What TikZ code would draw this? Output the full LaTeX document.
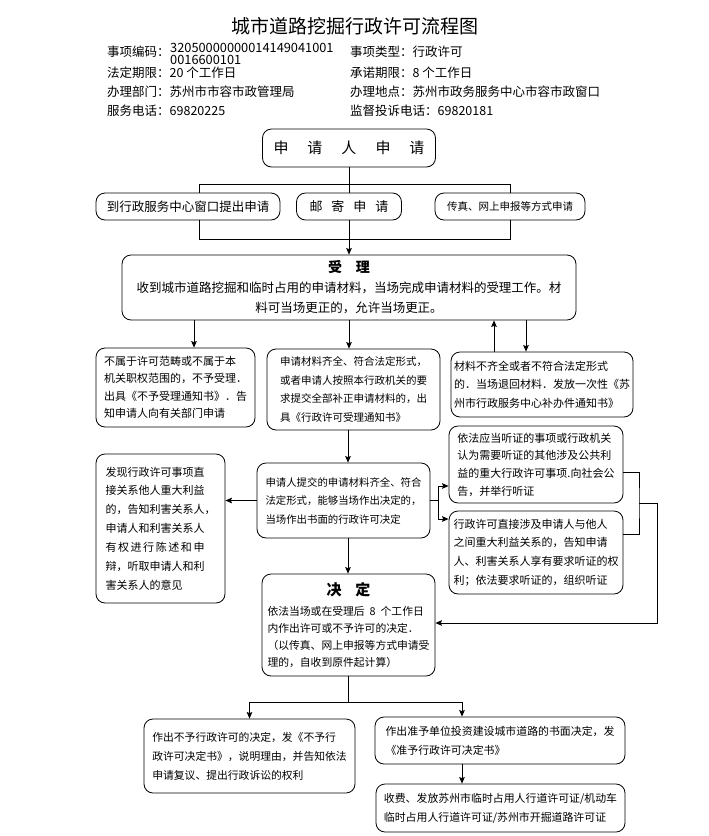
\documentclass[tikz,border=0pt]{standalone}
\usepackage{fontspec}
\setmainfont{Noto Sans CJK SC}
\usetikzlibrary{arrows.meta}
\newcommand\fsz[2]{\fontsize{#1}{#2}\selectfont}
\begin{document}
\begin{tikzpicture}[x=1pt,y=-1pt,
 box/.style={draw, rounded corners=9pt, line width=0.8pt, fill=white, inner sep=0pt},
 lft/.style={align=left},
 ctr/.style={align=center},
 ln/.style={line width=0.8pt},
 arr/.style={ln, -{Stealth[length=6.5pt,width=5.5pt,inset=1pt]}},
 hd/.style={anchor=west, inner sep=0pt, font=\fsz{12.5}{14}},
 code/.style={anchor=west, inner sep=0pt, font=\fsz{12.8}{12}}]
\useasboundingbox[fill=white] (0,0) rectangle (709,836);

% header
\node[inner sep=0pt, font=\fsz{19}{22}] (title) at (355,26) {城市道路挖掘行政许可流程图};
\node[hd] (h1a) at (107,52) {事项编码：};
\node[code] (h1b) at (170,48) {32050000000014149041001};
\node[code] (h1d) at (170,60) {0016600101};
\node[hd] (h1c) at (350,52) {事项类型：行政许可};
\node[hd] (h2a) at (107,73) {法定期限：20 个工作日};
\node[hd] (h2c) at (350,73) {承诺期限：8 个工作日};
\node[hd] (h3a) at (107,92) {办理部门：苏州市市容市政管理局};
\node[hd] (h3c) at (350,92) {办理地点：苏州市政务服务中心市容市政窗口};
\node[hd] (h4a) at (107,111) {服务电话：69820225};
\node[hd] (h4c) at (350,111) {监督投诉电话：69820181};

% application boxes
\node[box, minimum width=173pt, minimum height=38pt, font=\fsz{15}{18}] (top) at (349,148)
  {申\hspace{19pt}请\hspace{19pt}人\hspace{19pt}申\hspace{19pt}请};
\node[box, minimum width=184pt, minimum height=27pt, font=\fsz{12.5}{14}] (box1) at (188,206.5) {到行政服务中心窗口提出申请};
\node[box, minimum width=105pt, minimum height=27pt, font=\fsz{13}{14}] (box2) at (349,206.5) {邮\hspace{9pt}寄\hspace{9pt}申\hspace{9pt}请};
\node[box, minimum width=150pt, minimum height=27pt, font=\fsz{10.5}{12}] (box3) at (510,206.5) {传真、网上申报等方式申请};

\node[box, ctr, minimum width=454pt, minimum height=65pt, font=\fsz{12.5}{20}] (sl) at (349,287.5)
  {{\fsz{14}{20}\bfseries 受\hspace{14pt}理}\\收到城市道路挖掘和临时占用的申请材料，当场完成申请材料的受理工作。材\\料可当场更正的，允许当场更正。};

\node[box, lft, minimum width=159pt, minimum height=79pt, font=\fsz{11}{17.5}] (B) at (175.5,387.5)
  {不属于许可范畴或不属于本\\机关职权范围的，不予受理．\\出具《不予受理通知书》．告\\知申请人向有关部门申请};
\node[box, lft, minimum width=173pt, minimum height=81pt, font=\fsz{10.5}{18.7}] (A) at (353.5,389.5)
  {申请材料齐全、符合法定形式，\\或者申请人按照本行政机关的要\\求提交全部补正申请材料的，出\\具《行政许可受理通知书》};
\node[box, lft, minimum width=182pt, minimum height=65pt, font=\fsz{11}{18.5}] (C) at (542,384.5)
  {材料不齐全或者不符合法定形式\\的．当场退回材料．发放一次性《苏\\州市行政服务中心补办件通知书》};

\node[box, lft, minimum width=173pt, minimum height=75pt, font=\fsz{10.4}{18.5}] (D) at (343.5,500.5)
  {申请人提交的申请材料齐全、符合\\法定形式，能够当场作出决定的，\\当场作出书面的行政许可决定};
\node[box, lft, minimum width=129pt, minimum height=149pt, font=\fsz{11}{18.9}] (E) at (160.5,528.5)
  {发现行政许可事项直\\接关系他人重大利益\\的，告知利害关系人，\\申请人和利害关系人\\\makebox[9em][s]{有\hfil 权\hfil 进\hfil 行\hfil 陈\hfil 述\hfil 和\hfil 申}\\辩，听取申请人和利\\害关系人的意见};
\node[box, lft, minimum width=174pt, minimum height=77pt, font=\fsz{11}{17.7}] (H1) at (536,464.5)
  {依法应当听证的事项或行政机关\\认为需要听证的其他涉及公共利\\益的重大行政许可事项.向社会公\\告，并举行听证};
\node[box, lft, minimum width=174pt, minimum height=83pt, font=\fsz{11}{18.7}] (H2) at (536,552.5)
  {行政许可直接涉及申请人与他人\\之间重大利益关系的，告知申请\\人、利害关系人享有要求听证的权\\利；依法要求听证的，组织听证};

\node[box, lft, minimum width=173pt, minimum height=102pt, font=\fsz{10.8}{17}] (J) at (348.5,625)
  {\makebox[162pt]{\fsz{15}{17}\bfseries 决\hspace{14pt}定}\\[3pt]依法当场或在受理后\hspace{5pt}8\hspace{5pt}个工作日\\内作出许可或不予许可的决定．\\（以传真、网上申报等方式申请受\\理的，自收到原件起计算）};

\node[box, lft, minimum width=211pt, minimum height=74pt, font=\fsz{10.8}{19}] (F) at (249.5,756)
  {作出不予行政许可的决定，发《不予行\\政许可决定书》，说明理由，并告知依法\\申请复议、提出行政诉讼的权利};
\node[box, lft, minimum width=250pt, minimum height=47pt, font=\fsz{10.9}{19}] (G1) at (500,740.5)
  {作出准予单位投资建设城市道路的书面决定，发\\《准予行政许可决定书》};
\node[box, lft, minimum width=249pt, minimum height=48pt, font=\fsz{10.9}{19}] (G2) at (500.5,808)
  {收费、发放苏州市临时占用人行道许可证/机动车\\临时占用人行道许可证/苏州市开掘道路许可证};

% connectors: application
\coordinate (bl1) at (199,184);
\coordinate (br1) at (510,184);
\coordinate (bl2) at (199,239);
\coordinate (br2) at (510,239);
\draw[ln] (top.south) -- (box2.north);
\draw[ln] (bl1) -- (br1);
\draw[ln] (bl1) -- (box1.north -| bl1);
\draw[ln] (br1) -- (box3.north -| br1);
\draw[ln] (box1.south -| bl1) -- (bl2) -- (br2) -- (box3.south -| br2);
\draw[arr] (box2.south) -- (sl.north);

% from acceptance
\draw[arr] (sl.south -| 194,0) -- (B.north -| 194,0);
\draw[arr] (sl.south) -- (A.north -| sl.south);
\draw[arr] (C.north -| 494,0) -- (sl.south -| 494,0);
\draw[arr] (sl.south -| 526,0) -- (C.north -| 526,0);
\draw[arr] (A.south -| 348,0) -- (D.north -| 348,0);
\draw[arr] (D.west) -- (E.east |- D.west);

% hearing branch
\coordinate (fork) at (D.east -| 438,0);
\draw[ln] (D.east) -- (fork);
\draw[arr] (fork) |- (H1.west |- 0,486);
\draw[arr] (fork) |- (H2.west |- 0,519);
\coordinate (rj) at (639,503);
\coordinate (rr) at (657,503);
\draw[ln] (H1.east |- 0,472) -| (rj) |- (H2.east |- 0,534);
\draw[arr] (rj) -- (rr) |- (J.east |- 0,623);
\draw[arr] (D.south -| 348,0) -- (J.north -| 348,0);

% decision
\coordinate (bj) at (348,702);
\draw[ln] (J.south -| bj) -- (bj);
\draw[arr] (bj) -| (F.north);
\draw[arr] (bj) -| (G1.north -| 462,0);
\draw[arr] (G1.south -| 462,0) -- (G2.north -| 462,0);
\end{tikzpicture}
\end{document}
